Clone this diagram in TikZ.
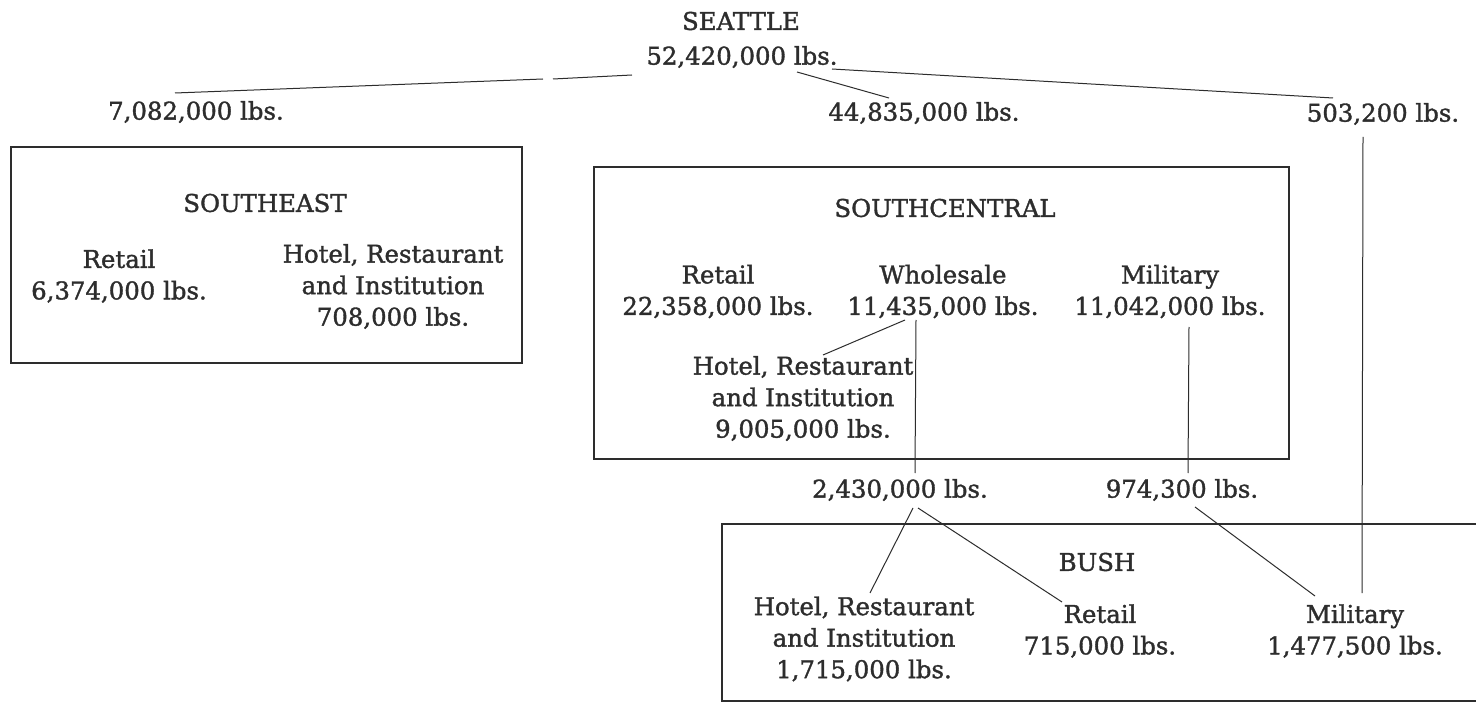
\documentclass[tikz,border=0pt]{standalone}
\usepackage{fontspec}
\setmainfont{DejaVu Serif}[FakeBold=1.4]
\definecolor{ink}{RGB}{45,45,45}
\begin{document}
\begin{tikzpicture}[x=1pt,y=-1pt,
  lbl/.style={font=\fontsize{24.4}{31.5}\selectfont, align=center, inner sep=0pt, text=ink},
  frame/.style={draw=ink, line width=1.2pt},
  link/.style={draw=ink, line width=1pt}]
\useasboundingbox[fill=white] (0,0) rectangle (1476,703);

% boxes
\draw[frame] (11,147) rectangle (522,363);
\draw[frame] (594,167) rectangle (1289,459);
\begin{scope}
  \clip (0,0) rectangle (1476,703);
  \draw[frame] (722,524) rectangle (1490,701);
\end{scope}

% top level
\node[lbl] (seattle) at (741,21) {SEATTLE};
\node[lbl] (total) at (742,57) {52,420,000 lbs.};
\node[lbl] (se) at (196,112) {7,082,000 lbs.};
\node[lbl] (sc) at (924,113) {44,835,000 lbs.};
\node[lbl] (bu) at (1383,114) {503,200 lbs.};

% southeast
\node[lbl] (setitle) at (265,203) {SOUTHEAST};
\node[lbl] (seretail) at (119,276) {Retail\\6,374,000 lbs.};
\node[lbl] (sehri) at (393,286.5) {Hotel, Restaurant\\and Institution\\708,000 lbs.};

% southcentral
\node[lbl] (sctitle) at (945,208) {SOUTHCENTRAL};
\node[lbl] (scretail) at (718,291.5) {Retail\\22,358,000 lbs.};
\node[lbl] (scwhole) at (943,291.5) {Wholesale\\11,435,000 lbs.};
\node[lbl] (scmil) at (1170,291.5) {Military\\11,042,000 lbs.};
\node[lbl] (schri) at (803,398.5) {Hotel, Restaurant\\and Institution\\9,005,000 lbs.};

% transfers
\node[lbl] (tw) at (900,490) {2,430,000 lbs.};
\node[lbl] (tm) at (1182,490) {974,300 lbs.};

% bush
\node[lbl] (butitle) at (1097,562) {BUSH};
\node[lbl] (buhri) at (864,639) {Hotel, Restaurant\\and Institution\\1,715,000 lbs.};
\node[lbl] (buretail) at (1100,631) {Retail\\715,000 lbs.};
\node[lbl] (bumil) at (1355,631) {Military\\1,477,500 lbs.};

% connector end points
\coordinate (tA) at (632,75);
\coordinate (gA) at (553,79);
\coordinate (gB) at (543,79);
\coordinate (seA) at (175,93);
\coordinate (tB) at (797,72);
\coordinate (scA) at (889,98);
\coordinate (tC) at (832,69);
\coordinate (buA) at (1333,98);
\coordinate (buB) at (1363,137);
\coordinate (bumA) at (1362,593);
\coordinate (whA) at (905,320);
\coordinate (hriA) at (823,355);
\coordinate (whB) at (916,320);
\coordinate (twA) at (915,473);
\coordinate (milA) at (1189,327);
\coordinate (tmA) at (1188,473);
\coordinate (twB) at (913,508);
\coordinate (buhriA) at (870,593);
\coordinate (twC) at (918,508);
\coordinate (buretA) at (1062,602);
\coordinate (tmB) at (1195,507);
\coordinate (bumB) at (1315,596);

% connectors
\draw[link] (tA) -- (gA);
\draw[link] (gB) -- (seA);
\draw[link] (tB) -- (scA);
\draw[link] (tC) -- (buA);
\draw[link] (buB) -- (bumA);
\draw[link] (whA) -- (hriA);
\draw[link] (whB) -- (twA);
\draw[link] (milA) -- (tmA);
\draw[link] (twB) -- (buhriA);
\draw[link] (twC) -- (buretA);
\draw[link] (tmB) -- (bumB);
\end{tikzpicture}
\end{document}
